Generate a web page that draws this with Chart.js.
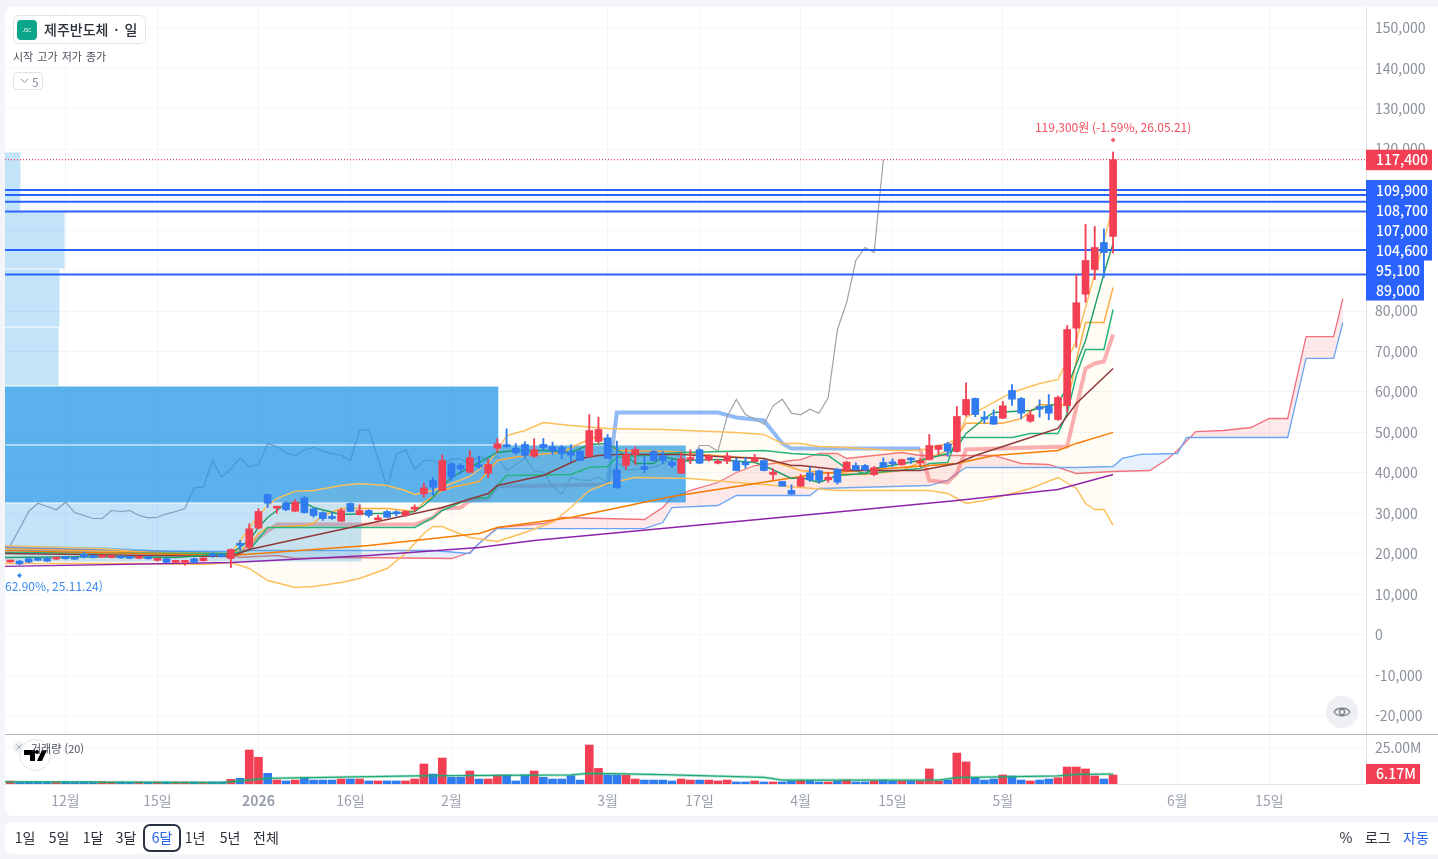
<!DOCTYPE html>
<html lang="ko">
<head>
<meta charset="utf-8">
<title>제주반도체 · 일</title>
<script src="https://cdn.jsdelivr.net/npm/chart.js@4/dist/chart.umd.min.js"></script>
<style>
    html, body { margin: 0; height: 100%; background: #f3f5f8; overflow: hidden; }
    body { font-family: "Noto Sans CJK KR", "Noto Sans", sans-serif; color: #2b2f38; }
    #card { position: absolute; left: 5px; top: 7px; width: 1433px; height: 809px; background: #fff; border-radius: 8px 0 0 8px; }
    #priceChart { position: absolute; left: 5px; top: 7px; }
    #volumeChart { position: absolute; left: 5px; top: 735px; }
    #split { position: absolute; left: 5px; top: 734px; width: 1433px; height: 1px; background: #b4b8be; }
    #bar { position: absolute; left: 5px; top: 822px; width: 1433px; height: 32px; background: #fff; border-radius: 8px 0 0 8px; font-size: 14px; }
    #bar span { position: absolute; top: 0; line-height: 31px; transform: translateX(-50%); white-space: nowrap; }
    #bar .on { color: #2563eb; }
    #bar .picked { width: 34px; height: 24px; line-height: 23px; top: 2px; text-align: center; border: 2px solid #2a3244; border-radius: 7px; color: #2563eb; }
    .over { position: absolute; white-space: nowrap; }
    #chip { left: 13px; top: 15px; width: 131px; height: 27px; border: 1px solid #e1e4e9; border-radius: 6px; background: #fff; font-size: 14px; font-weight: 500; line-height: 27px; }
    #chip b { position: absolute; left: 3px; top: 4px; width: 20px; height: 20px; border-radius: 4px; background: #0aa58b; color: #fff; font-size: 5px; font-weight: 400; line-height: 20px; text-align: center; }
    #chip i { position: absolute; left: 30px; font-style: normal; word-spacing: 2px; }
    #ohlc { left: 13px; top: 47px; font-size: 11px; line-height: 18px; color: #4a4f5a; word-spacing: 1px; }
    #fold { left: 13px; top: 72px; width: 28px; height: 16px; border: 1px solid #dfe2e7; border-radius: 4px; background: #fff; font-size: 12px; line-height: 17px; color: #8a919c; }
    #fold svg { position: absolute; left: 6px; top: 5px; }
    #fold i { position: absolute; left: 18px; font-style: normal; }
    #volName { left: 31px; top: 740px; font-size: 11px; line-height: 16px; color: #4a4f5a; }
    #logo { position: absolute; left: 11px; top: 738px; }
    #eye { position: absolute; left: 1326px; top: 696px; }
</style>
</head>
<body>
<div id="card"></div>
<canvas id="priceChart"></canvas>
<canvas id="volumeChart"></canvas>
<div id="split"></div>

<div class="over" id="chip"><b>JSC</b><i>제주반도체 · 일</i></div>
<div class="over" id="ohlc">시작 고가 저가 종가</div>
<div class="over" id="fold">
    <svg width="9" height="6"><path d="M1 1l3.5 3.5L8 1" fill="none" stroke="#8a919c"/></svg><i>5</i>
</div>
<svg id="logo" width="41" height="36">
    <circle cx="8" cy="9" r="6" fill="#eef0f3"/>
    <path d="M5.5 6.5l5 5M10.5 6.5l-5 5" stroke="#9aa1ad"/>
    <circle cx="24" cy="17" r="15.5" fill="#fff" fill-opacity=".55" stroke="#e3e5ea"/>
    <path d="M13 12h11v11h-5v-6h-6z M26 12a2 2 0 1 0 .01 0z M31 12h5l-5 11h-5z" fill="#000"/>
</svg>
<div class="over" id="volName">거래량 (20)</div>
<svg id="eye" width="32" height="32">
    <circle cx="16" cy="16" r="16" fill="#eef0f3"/>
    <path d="M8 16c3-5 13-5 16 0c-3 5-13 5-16 0z" fill="none" stroke="#7c828c" stroke-width="1.3"/>
    <circle cx="16" cy="16" r="2.6" fill="none" stroke="#7c828c" stroke-width="1.3"/>
</svg>

<div id="bar"></div>

<script>
// bar numbers: 0 is the first session of December, 114 is the last candle
const firstBar = -6;
const opens = [18000,18200,18800,18800,18900,18700,19000,18950,19900,19500,19200,19100,19400,19300,18900,19100,18400,18800,17900,17900,18800,18300,19600,19900,
    18850,22200,21650,26350,34650,31300,32600,30540,33850,31130,30200,28900,28070,32450,29700,30700,28400,30470,30100,29550,31050,34840,38130,35660,42250,41840,40180,41700,39930,
    46100,46530,46100,47030,44130,47030,46530,46350,45120,45370,44130,47770,48680,40770,41840,44560,41590,45290,44310,42650,39930,43300,45710,
    43240,42400,42900,42900,42650,42820,43070,39610,37880,35660,36720,40030,40530,38300,40920,40600,41830,41830,39610,42580,42650,42000,43320,42500,
    43320,45790,47200,45290,54360,58400,53550,53940,53520,60370,58390,52780,56410,56590,53200,56660,75760,84160,90270,96930,98440];
const highs = [18300,18400,19100,19000,19200,19100,19400,19100,20400,19700,19600,19600,19500,19400,19400,19300,18900,19000,18200,18300,19000,19100,20300,20100,
    21200,23300,27430,31200,34650,31700,32900,33350,34150,31300,30400,30200,31200,32600,32100,30900,29500,30700,30700,30700,32100,37460,38870,44480,42580,42250,45540,44060,43300,
    48500,50900,47270,47760,48430,48500,47600,46780,46950,45710,54440,53770,49500,47850,45960,46350,44060,45540,45290,43240,45120,45710,46000,
    44500,43300,45000,43640,43880,44560,43240,41020,37880,37060,39610,41420,40700,40180,41020,42900,42500,42080,41590,43740,43490,43400,43800,43560,
    49500,46900,47600,56410,62280,58500,55180,55600,57650,61850,58640,55430,58070,59380,59000,76430,88960,101400,100900,100300,119300];
const lows = [17900,17350,17800,18300,18100,18600,18700,18600,19000,19000,19100,19000,18900,18800,18800,18700,18200,17800,17800,17200,17700,18200,19100,19200,
    16630,20900,21300,26200,31450,30050,30700,30500,30050,29050,28250,28500,28000,30400,29600,29050,28300,29000,29300,29200,30470,34000,34420,35600,38130,39860,40000,41170,38870,
    45130,46300,44600,43810,43800,45710,44560,43490,42820,43070,43900,47270,43600,36200,40860,42080,40030,42900,42330,41270,39900,42250,42300,
    42900,42200,42300,40500,41170,42650,40500,38380,36720,34740,36600,37880,37460,37710,37220,40350,40700,40500,39300,41420,41590,41900,42330,41660,
    43200,44560,44130,45100,54020,53900,52290,52000,53400,56660,53370,52500,53770,53120,52980,55000,71060,82200,87720,88370,94300];
const closes = [18200,17500,17950,18400,18200,19000,18800,18700,19200,19100,19500,19400,19000,18900,19300,18800,18800,17900,18100,18100,17900,19000,19500,19300,
    21080,22100,26200,30470,32520,31700,30900,32770,30200,29480,28740,28750,30710,30470,30700,29500,28900,29050,29900,30470,31200,36320,36470,43070,38950,41030,43740,41500,42080,
    47200,46500,44970,44300,45710,46280,45370,44730,44380,43070,50480,50730,43640,36320,44560,45790,40860,43070,43070,41840,43490,43490,42400,
    44130,42900,44230,40600,42000,43740,40600,40180,36720,34740,38870,38300,38130,38950,37710,42650,40770,40770,41270,41420,42250,43300,43200,42650,
    46780,46780,45370,53940,58160,54440,53300,52040,56590,58220,54760,54360,55750,54760,58640,75440,82040,92490,95700,94450,117400];
// volume in millions
const volumes = [2.0,1.4,1.6,1.6,1.5,1.7,1.6,1.5,1.7,1.5,1.6,1.4,1.5,1.4,1.5,1.4,1.5,1.5,1.4,1.4,1.5,1.4,1.5,1.5,
    3.2,3.9,23.3,18.3,7.3,2.7,2.1,2.7,4.6,2.7,2.7,2.7,3.4,3.4,3.4,2.1,2.1,2.1,2.1,2.1,3.4,13.7,6.8,17.8,4.6,4.6,8.9,3.4,3.4,
    6.2,6.2,2.1,6.2,8.9,4.6,3.4,3.4,5.7,2.7,26.7,10.7,6.2,6.2,6.2,3.4,2.7,2.7,2.7,2.1,3.4,2.7,2.7,
    2.7,2.1,2.7,1.4,1.4,2.1,1.4,1.4,1.4,2.1,2.5,2.5,1.4,1.4,2.1,2.7,1.4,1.4,2.1,2.7,2.1,2.1,2.1,2.1,
    10.3,2.1,2.7,21.2,15.1,4.3,2.7,3.4,6.2,5.5,2.7,2.1,2.7,3.4,4.3,11.6,11.6,10.3,5.5,3.4,6.17];

// gray line: one close per bar starting at bar -6
const lagLine = [22100,26200,30470,32520,31700,30900,32770,30200,29480,28740,28750,30710,30470,30700,29500,28900,29050,29900,30470,31200,36320,36470,43070,38950,41030,43740,41500,42080,
    47200,46500,44970,44300,45710,46280,45370,44730,44380,43070,50480,50730,43640,36320,44560,45790,40860,43070,43070,41840,43490,43490,42400,44130,42900,44230,40600,42000,43740,40600,40180,36720,34740,38870,38300,38130,38950,37710,42650,40770,40770,41270,41420,42250,43300,43200,42650,46780,46780,45370,53940,58160,54440,53300,52040,56590,58220,54760,54360,55750,54760,58640,75440,82040,92490,95700,94450,117400];

// indicator lines, [bar, value]
const bbUpper = [[-7,22060],[4,21300],[9,20340],[15,19350],[18,20090],[19,23300],[20,26270],[21,29480],[22,31950],[23,33680],[25,35500],[27,35660],[30,36900],[32,37390],[35,36900],[37,35660],[38,34670],[40,35660],[42,37390],[44,39120],[46,42580],[47,45300],[48,49250],[50,50480],[52,52460],[55,51720],[59,50980],[65,50730],[73,49990],[76,49500],[78,47280],[80,47280],[82,46540],[85,46280],[90,45540],[93,45540],[96,47280],[97,48500],[98,53700],[100,56170],[103,59870],[106,62100],[108,63090],[109,67770],[110,72720],[111,80870],[112,89270],[113,97420],[114,106000]];
const bbLower = [[-7,17620],[8,17620],[15,17370],[18,17860],[20,16380],[22,13420],[25,11690],[27,11930],[30,12920],[32,13910],[35,16380],[37,20090],[39,25030],[40,26760],[41,26760],[42,25770],[44,24040],[47,23050],[50,25280],[53,27750],[55,31450],[57,35660],[59,37390],[62,38870],[68,38620],[73,37630],[80,36400],[84,35660],[87,35660],[94,35660],[96,34910],[98,32450],[100,33180],[103,34910],[105,36150],[108,38870],[110,36150],[111,32450],[112,30970],[113,30970],[114,27020]];
const conversion = [[-7,21320],[10,20340],[18,20090],[20,22060],[21,25030],[22,26510],[26,27000],[27,27490],[28,29480],[30,31200],[35,31200],[38,30470],[39,32690],[41,35660],[42,36400],[45,37880],[47,43070],[50,44300],[54,45050],[56,47280],[58,49250],[60,45540],[66,45290],[72,44060],[76,43560],[80,40600],[84,39860],[87,39610],[91,40600],[94,43570],[96,45540],[98,52290],[102,52290],[104,53420],[106,56910],[109,56660],[110,67770],[111,77170],[113,77170],[114,85810]];
const baseLine = [[-7,20340],[18,20090],[20,20830],[22,26510],[38,26510],[40,28980],[41,30710],[44,33680],[46,33930],[47,36890],[48,39360],[55,39610],[57,41340],[59,41590],[60,43810],[67,45050],[76,45540],[79,44800],[83,44300],[85,41090],[87,39860],[93,41090],[94,42330],[96,42580],[97,48750],[103,48750],[105,49740],[108,49740],[109,54690],[110,64060],[111,70490],[113,70490],[114,80380]];
const ma5 = [[-7,19100],[5,19350],[12,19100],[18,20090],[20,23300],[21,26510],[22,29000],[24,32450],[26,32700],[27,31450],[30,29730],[33,29970],[36,29970],[38,30470],[39,31950],[40,33930],[41,36650],[42,38870],[43,40110],[45,42580],[47,45050],[49,45540],[52,45540],[55,45050],[57,47020],[59,47270],[60,45790],[61,44310],[62,42330],[64,42330],[65,44060],[67,43070],[71,43310],[75,42580],[76,41830],[79,38620],[80,38870],[82,37630],[84,39360],[87,39860],[88,41090],[93,43070],[96,44800],[97,46280],[98,49760],[100,53460],[101,54940],[105,55430],[108,57150],[109,61130],[111,72720],[113,89270],[114,96700]];
const ma20 = [[-7,20090],[18,19350],[20,21080],[38,29970],[41,31450],[46,34910],[47,36890],[52,39360],[56,43560],[58,44300],[60,44550],[67,44550],[73,43810],[76,43560],[79,41830],[80,41830],[85,40600],[93,40600],[97,42330],[99,44300],[104,48010],[108,50980],[110,57150],[114,65800]];
const ma60 = [[-7,20830],[18,19590],[33,22060],[45,25030],[47,26510],[55,28980],[66,34170],[80,39120],[82,39860],[88,40850],[97,42330],[101,44300],[108,45540],[110,47280],[114,50000]];
const ma120 = [[-7,16880],[18,17860],[33,19590],[45,21570],[51,23300],[80,29480],[97,33190],[108,35900],[114,39610]];
const spanA = [[-7,21570],[6,20830],[12,20340],[15,20340],[18,19590],[19,19100],[23,19590],[25,18850],[32,19100],[42,18850],[44,20330],[45,22560],[47,26510],[52,27500],[54,28980],[63,28490],[65,31450],[66,33930],[68,35660],[71,37630],[73,40110],[75,41830],[77,42330],[79,43070],[80,43310],[82,44800],[84,44800],[85,43560],[91,45050],[93,44310],[101,44310],[104,42330],[107,42080],[110,39860],[114,40350],[118,40600],[120,43570],[121,45540],[123,50230],[126,50480],[129,51220],[131,53450],[133,53450],[135,73700],[138,73700],[139,83090]];
const spanB = [[-7,20830],[18,20580],[19,20830],[40,20830],[44,20090],[45,22560],[47,26260],[63,26260],[65,27750],[66,31450],[71,31950],[73,34420],[81,34420],[82,36150],[94,36890],[96,38130],[97,39860],[98,41340],[110,41340],[114,41590],[115,43570],[117,44560],[121,44800],[122,48750],[133,48750],[135,68310],[138,68310],[139,77170]];
const trendDown = [[-7,21570],[4,21080],[11,20340],[18,19840],[18,null],[59,37140],[60,54930],[71,54930],[73,53700],[76,52950],[78,47270],[79,46030],[93,46030]];
const trendUp = [[18,19840],[19,20090],[21,24040],[23,27250],[38,27250],[40,28980],[41,31200],[43,31450],[44,33190],[46,33680],[47,36650],[59,37140],[59,null],[93,46030],[94,38130],[96,37630],[97,39860],[98,45790],[109,46530],[111,65800],[112,67040],[113,67530],[114,74200]];

const volumeAverage = [[-7,1.4],[17,1.0],[22,3.9],[38,5.5],[55,6.2],[57,7.3],[61,6.9],[65,6.4],[76,4.6],[78,2.7],[95,2.7],[97,4.4],[108,5.5],[110,6.6],[114,6.8]];

// price levels
const levelPrices = [109900,108700,107000,104600,95100,89000];
const lastPrice = 117400;
const lastVolume = '6.17M';

// traded volume bands on the left, end is the bar their block reaches
const bandLow = [104600,90270,75900,61350,46780,32450,17860];
const bandHigh = [119180,104600,90270,75900,61350,46780,32450];
const bandEnd = [-4.9,-0.1,-0.65,-0.76,47.1,67.5,32.2];

const priceTicks = [150000,140000,130000,120000,110000,100000,90000,80000,70000,60000,50000,40000,30000,20000,10000,0,-10000,-20000];
const volumeTicks = [25];
const timeTicks = [0,10,21,31,42,59,69,80,90,102,121,131];
const timeLabels = ['12월','15일','2026','16일','2월','3월','17일','4월','15일','5월','6월','15일'];

const rangeButtons = [['1일',25],['5일',59],['1달',93],['3달',126],['6달',162],['1년',195],['5년',230],['전체',266],['%',1346],['로그',1378],['자동',1416]];

const RED = '#f23f54';
const BLUE = '#2f7bef';
const LEVEL = '#2962ff';
const FONT = '"Noto Sans CJK KR", "Noto Sans", sans-serif';
const X_MIN = -6.58;
const X_MAX = 141.52;

function points(pairs) {
    return pairs.map(p => ({x: p[0], y: p[1]}));
}

function line(label, pairs, color, width, order, extra) {
    return Object.assign({
        type: 'line', label: label, data: points(pairs), borderColor: color, borderWidth: width,
        pointRadius: 0, tension: 0, fill: false, order: order
    }, extra || {});
}

const bars = closes.map((c, i) => i + firstBar);
const candleColors = closes.map((c, i) => c >= opens[i] ? RED : BLUE);

function timeAxis(showLabels) {
    return {
        type: 'linear', min: X_MIN, max: X_MAX, offset: false,
        afterBuildTicks: scale => { scale.ticks = timeTicks.map(v => ({value: v})); },
        afterFit: scale => {
            scale.height = showLabels ? 32 : 0;
            scale.paddingLeft = 0;
            scale.paddingRight = 0;
        },
        grid: {color: '#f3f5f8', drawTicks: false, offset: false},
        border: {display: showLabels, color: '#e0e3e8'},
        ticks: {
            display: showLabels, autoSkip: false, maxRotation: 0, padding: 8, color: '#9aa1ad',
            font: ctx => ({family: FONT, size: 14, weight: ctx.tick && ctx.tick.value === 21 ? 'bold' : 'normal'}),
            callback: v => timeLabels[timeTicks.indexOf(v)]
        }
    };
}

function valueAxis(min, max, ticks, fmt) {
    return {
        type: 'linear', position: 'right', min: min, max: max,
        afterBuildTicks: scale => { scale.ticks = ticks.map(v => ({value: v})); },
        afterFit: scale => {
            scale.width = 72;
            scale.paddingTop = 0;
            scale.paddingBottom = 0;
        },
        grid: {color: '#f3f5f8', drawTicks: false},
        border: {color: '#e0e3e8'},
        ticks: {padding: 9, color: '#8a919c', font: {family: FONT, size: 14}, callback: fmt}
    };
}

// blocks sit over the cloud and gray line, under everything else
const bandPlugin = {
    id: 'bands',
    afterDatasetDraw(chart, args) {
        if (chart.data.datasets[args.index].label !== 'lag') return;
        const {ctx, chartArea, scales: {x, y}} = chart;
        ctx.save();
        bandLow.forEach((low, i) => {
            const top = y.getPixelForValue(bandHigh[i]);
            const bottom = y.getPixelForValue(low);
            ctx.fillStyle = bandEnd[i] > 40 ? 'rgba(33,150,230,.74)' : 'rgba(33,150,230,.27)';
            ctx.fillRect(chartArea.left, top, x.getPixelForValue(bandEnd[i]) - chartArea.left, bottom - top - 1);
        });
        ctx.restore();
    }
};

function tag(ctx, left, top, right, height, color, text) {
    ctx.fillStyle = color;
    ctx.fillRect(left, top, right - left, height);
    ctx.fillStyle = '#fff';
    ctx.font = '500 14px ' + FONT;
    ctx.textAlign = 'left';
    ctx.textBaseline = 'middle';
    ctx.fillText(text, left + 10, top + height / 2);
}

function diamond(ctx, x, y, color) {
    ctx.fillStyle = color;
    ctx.beginPath();
    ctx.moveTo(x, y - 2.5);
    ctx.lineTo(x + 2.5, y);
    ctx.lineTo(x, y + 2.5);
    ctx.lineTo(x - 2.5, y);
    ctx.fill();
}

const notePlugin = {
    id: 'notes',
    afterDraw(chart) {
        const {ctx, chartArea, scales: {x, y}} = chart;
        ctx.save();
        ctx.font = '12px ' + FONT;
        ctx.textBaseline = 'middle';

        const hi = highs.indexOf(Math.max(...highs));
        const hiX = x.getPixelForValue(bars[hi]);
        const hiY = y.getPixelForValue(highs[hi]);
        diamond(ctx, hiX, hiY - 12, '#f2606e');
        ctx.fillStyle = '#f2505f';
        ctx.textAlign = 'center';
        ctx.fillText('119,300원 (-1.59%, 26.05.21)', hiX, hiY - 25);

        const lo = lows.indexOf(17350);
        const loX = x.getPixelForValue(bars[lo]);
        const loY = y.getPixelForValue(lows[lo]);
        diamond(ctx, loX, loY + 11, '#3d8bf0');
        ctx.fillStyle = '#3d8bf0';
        ctx.textAlign = 'left';
        ctx.fillText('62.90%, 25.11.24)', chartArea.left, loY + 22);

        const left = chartArea.right;
        const lastY = y.getPixelForValue(lastPrice);
        tag(ctx, left, lastY - 10, left + 66, 20.5, RED, lastPrice.toLocaleString('en-US'));
        const firstY = y.getPixelForValue(levelPrices[0]);
        levelPrices.forEach((p, i) => {
            const right = left + (i < 4 ? 66 : 58);
            tag(ctx, left, firstY - 10 + i * 20, right, 20.5, LEVEL, p.toLocaleString('en-US'));
        });
        ctx.restore();
    }
};

const volumeTagPlugin = {
    id: 'volumeTag',
    afterDraw(chart) {
        const {ctx, chartArea} = chart;
        ctx.save();
        tag(ctx, chartArea.right, chartArea.bottom - 20, chartArea.right + 54, 20, RED, lastVolume);
        ctx.restore();
    }
};

function drawPrice() {
    const canvas = document.getElementById('priceChart');
    canvas.style.width = '1433px';
    canvas.style.height = '728px';

    const datasets = [
        line('cloud', spanA, '#f0707c', 1.3, 90, {fill: {target: 1, above: 'rgba(242,80,90,.13)', below: 'rgba(66,150,240,.13)'}}),
        line('cloudB', spanB, '#6aa5f5', 1.3, 89),
        line('bbFillEdge', bbUpper, '#fcbf5b', 1.4, 40, {fill: {target: 3, above: 'rgba(255,214,120,.07)', below: 'rgba(255,214,120,.07)'}}),
        line('bbLower', bbLower, '#fcbf5b', 1.4, 39),
        line('trendDown', trendDown, 'rgba(70,140,240,.6)', 4, 88),
        line('trendUp', trendUp, 'rgba(242,70,85,.45)', 4, 87),
        line('lag', lagLine.map((v, i) => [i - 6, v]), '#9ea3a8', 1.2, 80),
        line('conversion', conversion, '#fdab3d', 1.4, 35),
        line('base', baseLine, '#26b37c', 1.5, 34),
        line('ma120', ma120, '#8e24aa', 1.4, 33),
        line('ma60', ma60, '#f57c00', 1.4, 32),
        line('ma20', ma20, '#8e3a3a', 1.5, 31),
        line('ma5', ma5, '#1f9d68', 1.4, 30),
        line('last', [[X_MIN, lastPrice], [X_MAX, lastPrice]], RED, 1.2, 21, {borderDash: [1, 2]})
    ];
    levelPrices.forEach(p => {
        datasets.push(line('level', [[X_MIN, p], [X_MAX, p]], LEVEL, 2, 20));
    });
    datasets.push({
        type: 'bar', label: 'wick', data: bars.map((b, i) => ({x: b, y: [lows[i], highs[i]]})),
        backgroundColor: candleColors, barThickness: 1.2, grouped: false, order: 11
    });
    datasets.push({
        type: 'bar', label: 'body', data: bars.map((b, i) => ({x: b, y: [opens[i], closes[i]]})),
        backgroundColor: candleColors, barThickness: 7, grouped: false, minBarLength: 2, order: 10
    });

    new Chart(canvas, {
        type: 'line',
        data: {datasets: datasets},
        options: {
            responsive: false, animation: false, devicePixelRatio: 1,
            layout: {padding: 0},
            plugins: {legend: {display: false}, tooltip: {enabled: false}},
            scales: {
                x: timeAxis(false),
                y: valueAxis(-24760, 155130, priceTicks, v => v.toLocaleString('en-US'))
            }
        },
        plugins: [bandPlugin, notePlugin]
    });
}

function drawVolume() {
    const canvas = document.getElementById('volumeChart');
    canvas.style.width = '1433px';
    canvas.style.height = '81px';

    new Chart(canvas, {
        type: 'line',
        data: {
            datasets: [
                {type: 'bar', label: 'volume', data: bars.map((b, i) => ({x: b, y: volumes[i]})),
                    backgroundColor: candleColors, barThickness: 8, grouped: false, order: 5},
                line('averageWide', volumeAverage, 'rgba(38,179,124,.3)', 3, 2),
                line('average', volumeAverage, '#1fa973', 1.2, 1)
            ]
        },
        options: {
            responsive: false, animation: false, devicePixelRatio: 1,
            plugins: {legend: {display: false}, tooltip: {enabled: false}},
            scales: {
                x: timeAxis(true),
                y: valueAxis(0, 33.56, volumeTicks, v => v.toFixed(2) + 'M')
            }
        },
        plugins: [volumeTagPlugin]
    });
}

function drawButtons() {
    const bar = document.getElementById('bar');
    rangeButtons.forEach(([text, left]) => {
        const item = document.createElement('span');
        item.textContent = text;
        item.style.left = (left - 5) + 'px';
        if (text === '6달') item.className = 'picked';
        if (text === '자동') item.className = 'on';
        bar.append(item);
    });
}

document.addEventListener("DOMContentLoaded", () => {
    document.getElementById('priceChart').width = 1433;
    document.getElementById('priceChart').height = 728;
    document.getElementById('volumeChart').width = 1433;
    document.getElementById('volumeChart').height = 81;
    drawPrice();
    drawVolume();
    drawButtons();
});
</script>
</body>
</html>
